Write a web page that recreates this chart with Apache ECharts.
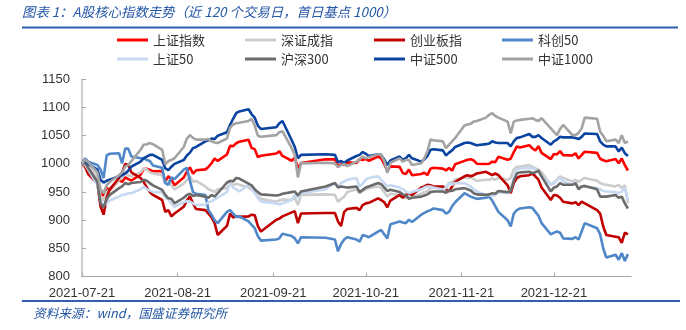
<!DOCTYPE html>
<html>
<head>
<meta charset="utf-8">
<script src="https://cdn.jsdelivr.net/npm/echarts@6/dist/echarts.min.js"></script>
<style>
html,body{margin:0;padding:0;background:#fff;}
#c{width:686px;height:330px;}
</style>
</head>
<body>
<div id="c"></div>
<script>
// ---- data ----
var dates = [
'2021-07-21','2021-07-22','2021-07-23','2021-07-26','2021-07-27','2021-07-28','2021-07-29','2021-07-30',
'2021-08-02','2021-08-03','2021-08-04','2021-08-05','2021-08-06','2021-08-09','2021-08-10','2021-08-11','2021-08-12','2021-08-13','2021-08-16','2021-08-17','2021-08-18','2021-08-19','2021-08-20','2021-08-23','2021-08-24','2021-08-25','2021-08-26','2021-08-27','2021-08-30','2021-08-31',
'2021-09-01','2021-09-02','2021-09-03','2021-09-06','2021-09-07','2021-09-08','2021-09-09','2021-09-10','2021-09-13','2021-09-14','2021-09-15','2021-09-16','2021-09-17','2021-09-22','2021-09-23','2021-09-24','2021-09-27','2021-09-28','2021-09-29','2021-09-30',
'2021-10-08','2021-10-11','2021-10-12','2021-10-13','2021-10-14','2021-10-15','2021-10-18','2021-10-19','2021-10-20','2021-10-21','2021-10-22','2021-10-25','2021-10-26','2021-10-27','2021-10-28','2021-10-29',
'2021-11-01','2021-11-02','2021-11-03','2021-11-04','2021-11-05','2021-11-08','2021-11-09','2021-11-10','2021-11-11','2021-11-12','2021-11-15','2021-11-16','2021-11-17','2021-11-18','2021-11-19','2021-11-22','2021-11-23','2021-11-24','2021-11-25','2021-11-26','2021-11-29','2021-11-30',
'2021-12-01','2021-12-02','2021-12-03','2021-12-06','2021-12-07','2021-12-08','2021-12-09','2021-12-10','2021-12-13','2021-12-14','2021-12-15','2021-12-16','2021-12-17','2021-12-20','2021-12-21','2021-12-22','2021-12-23','2021-12-24','2021-12-27','2021-12-28','2021-12-29','2021-12-30','2021-12-31',
'2022-01-04','2022-01-05','2022-01-06','2022-01-07','2022-01-10','2022-01-11','2022-01-12','2022-01-13','2022-01-14'
];
var tickDates = ['2021-07-21','2021-08-21','2021-09-21','2021-10-21','2021-11-21','2021-12-21'];
var axisMinDate = '2021-07-21';
var axisMaxDate = '2022-01-15';
var yTicks = {min: 800, max: 1150, interval: 50};

var names = ['上证指数','深证成指','创业板指','科创50','上证50','沪深300','中证500','中证1000'];

var shIndex = [1000,1003.3,996.5,973.2,949.0,943.5,957.6,953.6,
972.3,967.8,976.0,973.0,970.6,980.8,990.8,991.5,989.3,986.9,987.2,967.5,978.2,972.7,962.0,975.9,986.4,993.7,982.8,988.6,990.3,994.7,
1001.2,1009.6,1005.3,1016.6,1031.9,1031.5,1036.6,1039.4,1042.8,1028.0,1026.2,1012.4,1014.4,1018.4,1022.3,1014.1,1005.6,1011.0,992.5,1001.5,
1008.2,1008.1,995.5,999.7,998.7,1002.7,1001.5,1008.5,1006.8,1009.0,1005.5,1013.2,1009.7,999.8,987.5,995.6,
994.8,983.9,981.9,989.9,980.0,982.0,984.3,980.2,991.6,993.3,991.7,988.5,992.8,988.2,999.3,1005.4,1007.5,1008.4,1006.0,1000.4,999.9,1000.3,
1003.9,1003.1,1012.5,1007.4,1009.0,1021.0,1030.9,1029.0,1033.2,1027.7,1023.8,1031.5,1019.5,1008.6,1017.5,1016.8,1022.6,1015.5,1014.9,1018.9,1009.6,1015.8,1021.6,
1019.5,1009.1,1006.5,1004.7,1008.6,1001.3,1009.7,997.9,988.3];

var szComp = [1000,1006,998,975,942,935,950,955,
972,975,985,980,978,985,992,990,985,983,980,965,970,962,955,965,972,978,968,970,960,955,
953,950,955,957,966,962,965,963,958,955,950,942,938,933,935,937,936,940,927,945,
946,945,933,938,942,950,955,948,952,955,957,960,957,950,942,947,
945,942,940,945,942,947,950,952,957,958,960,957,966,968,972,976,975,976,973,970,972,972,
974,972,975,972,975,990,995,995,998,995,992,990,985,963,967,972,978,975,969,972,968,972,975,
970,966,964,963,960,963,957,962,930];

var chinext = [1000,995,982,965,925,910,940,955,
975,985,1000,998,985,975,968,958,950,945,936,915,918,907,912,924,935,942,930,920,918,912,
905,895,874,890,912,905,907,906,907,910,909,890,880,901,903,907,914,916,895,912,
913,913,898,890,915,920,922,918,927,930,931,939,936,932,923,935,
945,940,945,948,945,958,960,963,962,960,960,955,951,960,968,978,980,978,980,983,986,983,
980,983,980,962,948,966,975,978,980,983,978,972,958,936,945,944,940,933,930,932,927,933,930,
918,912,889,874,871,870,860,878,875];

var star50 = [1000,1010,1004,998,990,975,1015,1018,
1019,1001,1027,1027,1013,1010,1010,1007,1005,997,993,966,963,976,973,990,993,970,950,947,945,918,
910,900,895,915,918,912,906,907,898,892,886,872,864,866,868,876,872,868,859,870,
869,866,845,858,866,870,866,862,874,872,870,880,883,875,868,893,
898,896,895,901,897,910,913,916,918,921,918,912,915,925,932,948,945,942,940,938,940,942,
935,925,915,900,889,912,918,921,923,922,915,908,895,875,878,880,878,868,867,870,866,880,895,
886,875,850,834,839,830,842,828,840];

var sse50 = [1000,998,990,962,935,927,930,935,
942,945,946,948,948,955,960,955,953,950,950,940,937,930,924,932,934,933,930,927,928,932,
934,937,940,950,966,958,955,951,963,958,948,940,933,930,928,930,936,945,940,948,
955,966,960,966,969,972,975,960,965,972,975,978,972,966,960,962,
958,955,951,948,950,955,958,960,960,958,954,958,966,963,966,966,963,960,955,951,945,945,
943,945,950,948,954,975,989,992,993,992,990,986,978,963,965,972,975,969,963,965,958,960,960,
957,955,952,951,950,948,951,958,935];

var csi300 = [1000,1002,993,968,930,923,938,945,
957,960,966,964,966,968,972,970,966,962,954,945,939,938,930,940,945,947,943,945,942,940,
945,942,948,967,970,969,975,974,965,962,955,950,946,944,945,947,950,951,944,951,
960,966,958,960,959,958,960,950,954,958,960,966,964,958,952,954,
950,946,944,938,940,942,944,946,950,951,951,949,953,952,955,957,955,953,948,946,945,946,
948,947,952,950,952,970,983,985,986,984,985,988,978,951,958,960,966,963,963,966,955,960,961,
955,942,942,942,945,940,942,930,921];

var csi500 = [1000,1007,1000,990,972,967,970,972,
978,980,983,988,995,1004,1010,1013,1016,1016,1007,992,989,995,1000,1007,1015,1020,1028,1030,1040,1042,
1045,1044,1050,1056,1069,1080,1090,1093,1097,1088,1082,1068,1062,1065,1072,1076,1042,1030,1010,1016,
1017,1016,1003,1005,1002,1006,1014,1016,1021,1018,1014,1017,1016,1008,998,1006,
1013,1007,1010,1016,1010,1004,1008,1014,1025,1026,1024,1015,1020,1024,1030,1037,1038,1037,1035,1033,1035,1036,
1040,1038,1037,1037,1031,1040,1046,1047,1053,1048,1048,1051,1046,1034,1040,1043,1048,1047,1047,1046,1044,1048,1054,
1053,1040,1034,1031,1031,1022,1029,1019,1014];

var csi1000 = [1000,1008,1003,985,955,948,962,968,
980,985,995,998,1005,1025,1034,1035,1037,1035,1025,999,1005,1007,1010,1030,1045,1051,1046,1043,1043,1044,
1040,1038,1037,1045,1064,1070,1072,1073,1076,1080,1068,1050,1048,1051,1056,1058,1028,1016,976,1001,
1002,1001,994,998,1000,996,1004,1008,1013,1010,1012,1017,1016,1005,984,1002,
1010,1004,1007,1007,998,1001,1010,1022,1043,1042,1040,1028,1034,1040,1046,1068,1070,1071,1075,1076,1082,1087,
1090,1085,1082,1075,1054,1075,1077,1078,1080,1081,1078,1076,1081,1063,1057,1051,1062,1069,1051,1051,1055,1063,1082,
1080,1057,1050,1040,1043,1037,1051,1037,1040];

var seriesValues = [shIndex, szComp, chinext, star50, sse50, csi300, csi500, csi1000];
var colors = ['#ff0000','#cccccc','#c00000','#4f87c8','#c6d9f1','#6b6b6b','#0b44a0','#a3a3a3'];

// ---- helpers ----
function ts(s){ var p = s.split('-'); return new Date(+p[0], +p[1]-1, +p[2]).getTime(); }
function pad(n){ return (n<10?'0':'')+n; }
function fmt(v){ var d = new Date(v); return d.getFullYear()+'-'+pad(d.getMonth()+1)+'-'+pad(d.getDate()); }

var tickTs = tickDates.map(ts);
var dateTs = dates.map(ts);

var cjk = '"Noto Sans CJK SC", "Noto Sans", sans-serif';
var num = '"Liberation Sans", Arial, sans-serif';

var legendPos = [[117,32],[245,32],[374,32],[502,32],[117,51],[245,51],[374,51],[502,51]];
var legends = names.map(function(n,i){
  return {
    data:[n], left: legendPos[i][0], top: legendPos[i][1], padding:0,
    itemWidth:31, itemHeight:3, icon:'rect', selectedMode:false,
    textStyle:{fontSize:13, color:'#333', fontFamily:cjk, lineHeight:16}
  };
});

var series = names.map(function(n,i){
  return {
    name:n, type:'line', showSymbol:false, symbol:'none',
    lineStyle:{width:2.6, color:colors[i]}, itemStyle:{color:colors[i]},
    data: dateTs.map(function(t,j){ return [t, seriesValues[i][j]]; }),
    animation:false
  };
});

var chart = echarts.init(document.getElementById('c'), null, {renderer:'canvas'});
chart.setOption({
  backgroundColor:'#fff',
  animation:false,
  legend: legends,
  grid:{left:82, right:55, top:79.3, bottom:53.3, containLabel:false},
  xAxis:{
    type:'value', min: ts(axisMinDate), max: ts(axisMaxDate), scale:true,
    axisLine:{show:true, lineStyle:{color:'#a6a6a6', width:1.2}},
    axisTick:{show:true, inside:true, length:4, customValues: tickTs, lineStyle:{color:'#a6a6a6'}},
    axisLabel:{customValues: tickTs, formatter: function(v){ return fmt(v); }, fontSize:13, color:'#333', margin:10, fontFamily:num},
    splitLine:{show:false}
  },
  yAxis:{
    type:'value', min:yTicks.min, max:yTicks.max, interval:yTicks.interval,
    axisLine:{show:true, lineStyle:{color:'#bfbfbf', width:1.5}},
    axisTick:{show:true, inside:true, length:4, lineStyle:{color:'#a6a6a6'}},
    axisLabel:{fontSize:13, color:'#333', margin:12, fontFamily:num, formatter:function(v){ return String(v); }},
    splitLine:{show:false}
  },
  graphic:[
    {type:'text', left:22, top:5, style:{text:'图表 1：A股核心指数走势（近 120 个交易日，首日基点 1000）', fill:'#2457a6', font:'italic 13.4px '+cjk}},
    {type:'line', shape:{x1:22, y1:27.5, x2:678, y2:27.5}, style:{stroke:'#2f5fae', lineWidth:2}},
    {type:'line', shape:{x1:22, y1:301, x2:680, y2:301}, style:{stroke:'#2f5fae', lineWidth:2}},
    {type:'text', left:33, top:306.5, style:{text:'资料来源：wind，国盛证券研究所', fill:'#2457a6', font:'italic 12.7px '+cjk}}
  ],
  series: series
});
</script>
</body>
</html>
